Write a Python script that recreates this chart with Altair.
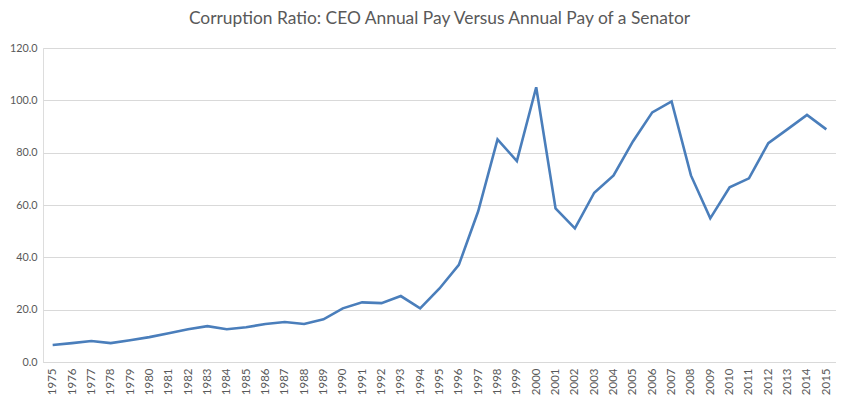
import altair as alt
import pandas as pd

years = [str(y) for y in range(1975, 2016)]
ratio = [6.5, 7.2, 8.0, 7.2, 8.3, 9.5, 11.0, 12.5, 13.7, 12.5,
         13.3, 14.5, 15.3, 14.5, 16.3, 20.5, 22.8, 22.5, 25.2, 20.5,
         28.1, 37.1, 57.6, 85.1, 76.8, 105.0, 58.7, 51.1, 64.7, 71.3,
         84.3, 95.4, 99.6, 71.3, 54.9, 66.8, 70.2, 83.6, 89.0, 94.4, 88.9]

df = pd.DataFrame({"year": years, "ratio": ratio})

chart = alt.Chart(df).mark_line(color="#4a7ebb", strokeWidth=2.6).encode(
    x=alt.X("year:O", sort=years,
            scale=alt.Scale(type="point", padding=0.5),
            axis=alt.Axis(title=None, labelAngle=-90, labelFontSize=11.5,
                          labelColor="#595959", labelFont="Lato",
                          domainColor="#d9d9d9", ticks=False, labelPadding=6,
                          grid=False, labelBaseline="middle", labelAlign="right")),
    y=alt.Y("ratio:Q", scale=alt.Scale(domain=[0, 120], nice=False),
            axis=alt.Axis(title=None, values=[0, 20, 40, 60, 80, 100, 120],
                          format=".1f", labelFontSize=10.8, labelColor="#595959",
                          labelFont="Lato", domain=False, ticks=False,
                          labelPadding=6, gridColor="#d9d9d9")),
).properties(
    width=793, height=314,
    title=alt.TitleParams("Corruption Ratio: CEO Annual Pay Versus Annual Pay of a Senator",
                          fontSize=17.4, font="Lato", fontWeight="normal",
                          color="#595959", anchor="middle", offset=15),
    autosize=alt.AutoSizeParams(type="none"),
    padding={"left": 35, "top": 40, "right": 0, "bottom": 36},
).configure_view(stroke=None).configure(background="white")

chart.save("out.html", embed_options={"renderer": "svg", "actions": False})
